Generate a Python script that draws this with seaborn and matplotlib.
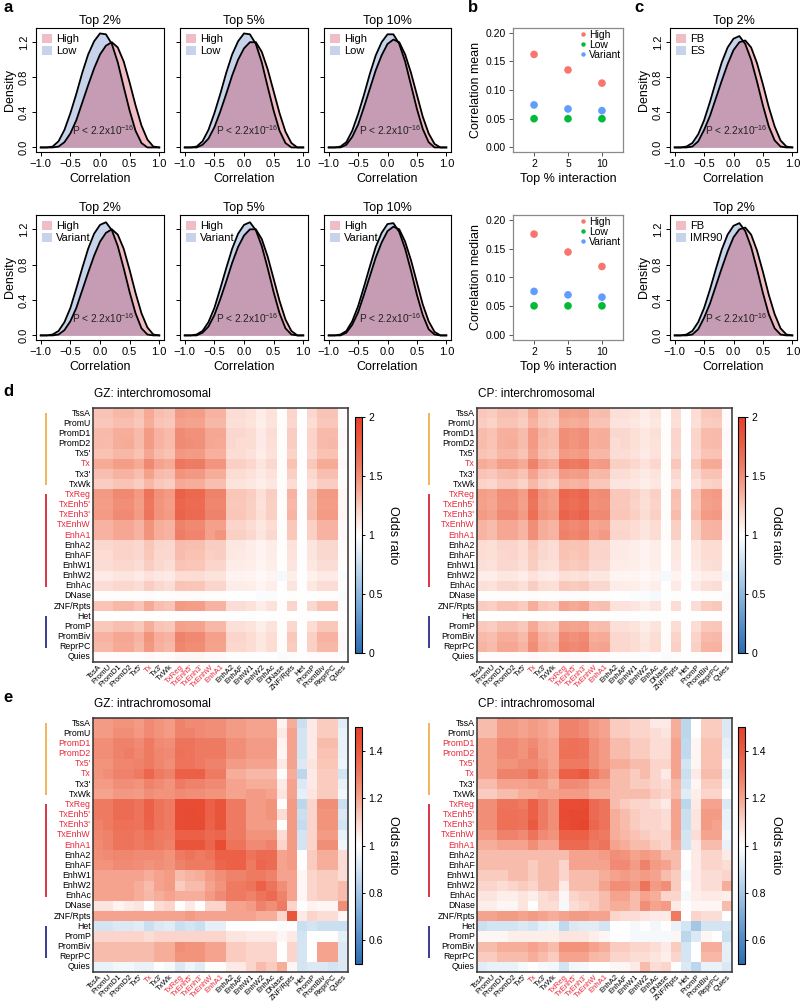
import numpy as np
import pandas as pd
import seaborn as sns
import matplotlib.pyplot as plt
import matplotlib.transforms as mtransforms
from matplotlib.colors import LinearSegmentedColormap
from matplotlib.patches import Patch
from matplotlib.lines import Line2D

plt.rcParams['font.family'] = ['Liberation Sans', 'DejaVu Sans']
plt.rcParams['mathtext.fontset'] = 'custom'
plt.rcParams['mathtext.rm'] = 'Liberation Sans'

# ---------------- data: density curves (read at correlation -1.0 .. 1.0, step 0.1)
corr_grid = np.linspace(-1.0, 1.0, 21)

low_top2 = [0.00, 0.00, 0.01, 0.07, 0.20, 0.39, 0.61, 0.85, 1.06, 1.21, 1.30,
            1.29, 1.18, 0.97, 0.69, 0.42, 0.19, 0.05, 0.00, 0.00, 0.00]
low_top5 = [0.00, 0.00, 0.01, 0.07, 0.20, 0.39, 0.61, 0.85, 1.06, 1.21, 1.30,
            1.29, 1.18, 0.97, 0.69, 0.42, 0.19, 0.05, 0.00, 0.00, 0.00]
low_top10 = [0.00, 0.00, 0.01, 0.06, 0.19, 0.38, 0.60, 0.84, 1.05, 1.20, 1.29,
             1.29, 1.18, 0.98, 0.71, 0.44, 0.21, 0.06, 0.00, 0.00, 0.00]
high_top2 = [0.00, 0.00, 0.00, 0.01, 0.06, 0.16, 0.31, 0.51, 0.71, 0.90, 1.06,
             1.16, 1.20, 1.14, 0.98, 0.74, 0.48, 0.25, 0.09, 0.01, 0.00]
high_top5 = [0.00, 0.00, 0.00, 0.03, 0.10, 0.23, 0.41, 0.61, 0.82, 1.00, 1.13,
             1.20, 1.20, 1.09, 0.89, 0.64, 0.39, 0.18, 0.05, 0.00, 0.00]
high_top10 = [0.00, 0.00, 0.00, 0.03, 0.12, 0.26, 0.46, 0.67, 0.88, 1.05, 1.18,
              1.23, 1.20, 1.06, 0.85, 0.60, 0.35, 0.16, 0.04, 0.00, 0.00]
variant_top2 = [0.00, 0.00, 0.01, 0.05, 0.15, 0.31, 0.53, 0.76, 0.98, 1.15, 1.25,
                1.28, 1.19, 1.01, 0.76, 0.49, 0.25, 0.08, 0.01, 0.00, 0.00]
variant_top5 = [0.00, 0.00, 0.01, 0.05, 0.15, 0.31, 0.53, 0.76, 0.98, 1.15, 1.25,
                1.28, 1.19, 1.01, 0.76, 0.49, 0.25, 0.08, 0.01, 0.00, 0.00]
variant_top10 = [0.00, 0.00, 0.01, 0.05, 0.16, 0.33, 0.55, 0.78, 1.00, 1.16, 1.26,
                 1.27, 1.17, 0.98, 0.73, 0.46, 0.23, 0.07, 0.01, 0.00, 0.00]
fb_top2 = [0.00, 0.00, 0.00, 0.01, 0.07, 0.20, 0.36, 0.56, 0.76, 0.95, 1.11,
           1.20, 1.22, 1.14, 0.96, 0.72, 0.46, 0.24, 0.08, 0.01, 0.00]
es_top2 = [0.00, 0.00, 0.01, 0.05, 0.15, 0.31, 0.52, 0.75, 0.97, 1.14, 1.24,
           1.27, 1.18, 1.00, 0.75, 0.48, 0.24, 0.08, 0.01, 0.00, 0.00]
imr90_top2 = [0.00, 0.00, 0.01, 0.05, 0.15, 0.31, 0.52, 0.75, 0.97, 1.14, 1.24,
              1.27, 1.18, 1.00, 0.75, 0.48, 0.24, 0.08, 0.01, 0.00, 0.00]

# ---------------- data: panel b
top_pct = ["2", "5", "10"]
mean_high = [0.162, 0.135, 0.112]
mean_low = [0.050, 0.050, 0.050]
mean_variant = [0.074, 0.067, 0.064]
median_high = [0.175, 0.144, 0.119]
median_low = [0.051, 0.051, 0.051]
median_variant = [0.076, 0.070, 0.066]

# ---------------- data: chromatin state odds ratios
states = ["TssA", "PromU", "PromD1", "PromD2", "Tx5'", "Tx", "Tx3'", "TxWk",
          "TxReg", "TxEnh5'", "TxEnh3'", "TxEnhW", "EnhA1", "EnhA2", "EnhAF",
          "EnhW1", "EnhW2", "EnhAc", "DNase", "ZNF/Rpts", "Het", "PromP",
          "PromBiv", "ReprPC", "Quies"]
red_cols = ["Tx", "TxReg", "TxEnh5'", "TxEnh3'", "TxEnhW", "EnhA1"]
red_rows_inter = ["Tx", "TxReg", "TxEnh5'", "TxEnh3'", "TxEnhW", "EnhA1"]
red_rows_intra = ["PromD1", "PromD2", "Tx5'", "Tx", "TxReg", "TxEnh5'",
                  "TxEnh3'", "TxEnhW", "EnhA1"]

gz_inter = [
    [1.27, 1.27, 1.32, 1.32, 1.27, 1.38, 1.29, 1.27, 1.45, 1.43, 1.43, 1.34, 1.34, 1.16, 1.16, 1.14, 1.09, 1.14, 1.01, 1.20, 1.00, 1.18, 1.27, 1.27, 1.02],
    [1.25, 1.25, 1.29, 1.29, 1.25, 1.36, 1.27, 1.25, 1.42, 1.40, 1.40, 1.32, 1.32, 1.15, 1.15, 1.13, 1.08, 1.13, 1.01, 1.19, 1.00, 1.17, 1.25, 1.25, 1.02],
    [1.31, 1.31, 1.36, 1.36, 1.31, 1.44, 1.34, 1.31, 1.52, 1.49, 1.49, 1.39, 1.39, 1.18, 1.18, 1.16, 1.10, 1.16, 1.01, 1.23, 1.00, 1.21, 1.31, 1.31, 1.03],
    [1.31, 1.30, 1.36, 1.37, 1.31, 1.44, 1.34, 1.30, 1.52, 1.50, 1.49, 1.39, 1.38, 1.18, 1.17, 1.16, 1.10, 1.15, 1.01, 1.23, 1.00, 1.21, 1.31, 1.32, 1.03],
    [1.28, 1.28, 1.32, 1.32, 1.28, 1.39, 1.30, 1.28, 1.46, 1.44, 1.44, 1.35, 1.35, 1.16, 1.16, 1.14, 1.09, 1.14, 1.01, 1.21, 1.00, 1.18, 1.28, 1.28, 1.02],
    [1.37, 1.37, 1.43, 1.43, 1.37, 1.53, 1.40, 1.37, 1.62, 1.59, 1.59, 1.47, 1.47, 1.22, 1.22, 1.19, 1.12, 1.19, 1.01, 1.28, 1.00, 1.25, 1.37, 1.37, 1.03],
    [1.29, 1.29, 1.34, 1.34, 1.29, 1.41, 1.31, 1.29, 1.48, 1.46, 1.46, 1.36, 1.36, 1.17, 1.17, 1.14, 1.10, 1.14, 1.01, 1.22, 1.00, 1.19, 1.29, 1.29, 1.02],
    [1.23, 1.23, 1.27, 1.27, 1.23, 1.32, 1.25, 1.23, 1.38, 1.36, 1.36, 1.29, 1.29, 1.13, 1.13, 1.11, 1.08, 1.11, 1.01, 1.17, 1.00, 1.15, 1.23, 1.23, 1.02],
    [1.45, 1.45, 1.53, 1.53, 1.45, 1.64, 1.49, 1.45, 1.75, 1.71, 1.71, 1.56, 1.56, 1.26, 1.26, 1.23, 1.15, 1.23, 1.02, 1.34, 1.00, 1.30, 1.45, 1.45, 1.04],
    [1.43, 1.43, 1.50, 1.50, 1.43, 1.61, 1.47, 1.43, 1.72, 1.68, 1.68, 1.54, 1.54, 1.25, 1.25, 1.22, 1.14, 1.22, 1.01, 1.32, 1.00, 1.29, 1.43, 1.43, 1.04],
    [1.44, 1.44, 1.52, 1.52, 1.44, 1.63, 1.48, 1.44, 1.74, 1.70, 1.70, 1.56, 1.56, 1.26, 1.26, 1.22, 1.15, 1.22, 1.01, 1.33, 1.00, 1.30, 1.44, 1.44, 1.04],
    [1.34, 1.34, 1.39, 1.39, 1.34, 1.48, 1.36, 1.34, 1.56, 1.53, 1.53, 1.42, 1.42, 1.20, 1.20, 1.17, 1.11, 1.17, 1.01, 1.25, 1.00, 1.22, 1.34, 1.34, 1.03],
    [1.34, 1.34, 1.39, 1.39, 1.34, 1.48, 1.36, 1.34, 1.58, 1.55, 1.55, 1.42, 1.47, 1.22, 1.22, 1.18, 1.12, 1.18, 1.01, 1.25, 1.00, 1.22, 1.34, 1.34, 1.03],
    [1.18, 1.18, 1.21, 1.21, 1.18, 1.26, 1.20, 1.18, 1.30, 1.29, 1.29, 1.23, 1.23, 1.11, 1.11, 1.09, 1.06, 1.09, 1.01, 1.14, 1.00, 1.12, 1.18, 1.18, 1.02],
    [1.17, 1.17, 1.21, 1.21, 1.18, 1.25, 1.19, 1.18, 1.30, 1.28, 1.28, 1.22, 1.23, 1.11, 1.10, 1.09, 1.06, 1.09, 1.00, 1.13, 1.00, 1.12, 1.18, 1.18, 1.01],
    [1.16, 1.16, 1.19, 1.19, 1.16, 1.23, 1.18, 1.16, 1.27, 1.26, 1.26, 1.20, 1.20, 1.09, 1.09, 1.08, 1.05, 1.08, 1.00, 1.12, 1.00, 1.11, 1.16, 1.16, 1.01],
    [1.10, 1.10, 1.12, 1.12, 1.10, 1.14, 1.11, 1.10, 1.17, 1.16, 1.16, 1.13, 1.13, 1.06, 1.06, 1.05, 1.03, 1.05, 0.96, 1.08, 1.00, 1.07, 1.10, 1.10, 0.97],
    [1.16, 1.16, 1.19, 1.19, 1.16, 1.23, 1.18, 1.16, 1.27, 1.26, 1.26, 1.20, 1.20, 1.09, 1.09, 1.08, 1.05, 1.08, 1.00, 1.12, 1.00, 1.11, 1.16, 1.16, 1.01],
    [1.01, 1.01, 1.01, 1.01, 1.01, 1.02, 1.01, 1.01, 1.02, 1.02, 1.02, 1.01, 1.01, 1.00, 1.00, 1.00, 0.97, 0.97, 1.00, 1.01, 1.00, 1.00, 1.01, 1.01, 0.97],
    [1.27, 1.27, 1.32, 1.32, 1.27, 1.38, 1.29, 1.27, 1.45, 1.43, 1.43, 1.34, 1.34, 1.16, 1.16, 1.14, 1.09, 1.14, 1.01, 1.20, 1.00, 1.18, 1.27, 1.27, 1.02],
    [1.00, 1.00, 1.00, 1.00, 1.00, 1.00, 1.00, 1.00, 1.00, 1.00, 1.00, 1.00, 1.00, 1.00, 1.00, 1.00, 1.00, 1.00, 1.00, 1.00, 1.00, 1.00, 1.00, 1.00, 1.00],
    [1.25, 1.25, 1.29, 1.29, 1.25, 1.36, 1.27, 1.25, 1.42, 1.40, 1.40, 1.32, 1.32, 1.15, 1.15, 1.13, 1.08, 1.13, 1.01, 1.19, 1.00, 1.17, 1.25, 1.25, 1.02],
    [1.34, 1.34, 1.39, 1.39, 1.34, 1.48, 1.36, 1.34, 1.56, 1.53, 1.53, 1.42, 1.42, 1.20, 1.20, 1.17, 1.11, 1.17, 1.01, 1.25, 1.00, 1.22, 1.34, 1.34, 1.03],
    [1.32, 1.32, 1.38, 1.38, 1.32, 1.46, 1.35, 1.32, 1.54, 1.51, 1.51, 1.41, 1.41, 1.19, 1.19, 1.16, 1.11, 1.16, 1.01, 1.24, 1.00, 1.22, 1.32, 1.32, 1.03],
    [1.02, 1.02, 1.02, 1.02, 1.02, 1.03, 1.02, 1.02, 1.04, 1.04, 1.04, 1.03, 1.03, 1.01, 1.01, 1.01, 0.99, 1.00, 0.97, 1.02, 1.00, 1.02, 1.02, 1.02, 1.00],
]

cp_inter = [
    [1.25, 1.23, 1.29, 1.29, 1.25, 1.38, 1.27, 1.25, 1.42, 1.40, 1.42, 1.29, 1.30, 1.15, 1.15, 1.13, 1.09, 1.13, 1.01, 1.17, 1.00, 1.17, 1.25, 1.26, 1.02],
    [1.23, 1.21, 1.27, 1.27, 1.23, 1.34, 1.25, 1.23, 1.38, 1.36, 1.38, 1.27, 1.27, 1.13, 1.13, 1.11, 1.08, 1.11, 1.01, 1.15, 1.00, 1.15, 1.23, 1.24, 1.02],
    [1.30, 1.28, 1.35, 1.35, 1.30, 1.45, 1.33, 1.30, 1.50, 1.48, 1.50, 1.35, 1.36, 1.18, 1.18, 1.15, 1.11, 1.15, 1.01, 1.20, 1.00, 1.20, 1.30, 1.31, 1.03],
    [1.30, 1.27, 1.35, 1.36, 1.30, 1.45, 1.32, 1.30, 1.50, 1.47, 1.50, 1.35, 1.36, 1.17, 1.18, 1.15, 1.11, 1.14, 1.01, 1.20, 1.00, 1.20, 1.30, 1.31, 1.02],
    [1.27, 1.25, 1.32, 1.32, 1.27, 1.41, 1.29, 1.27, 1.45, 1.43, 1.45, 1.32, 1.32, 1.16, 1.16, 1.14, 1.10, 1.14, 1.01, 1.18, 1.00, 1.18, 1.27, 1.28, 1.02],
    [1.37, 1.34, 1.43, 1.43, 1.37, 1.56, 1.40, 1.37, 1.62, 1.59, 1.62, 1.43, 1.45, 1.22, 1.22, 1.19, 1.14, 1.19, 1.01, 1.25, 1.00, 1.25, 1.37, 1.38, 1.03],
    [1.27, 1.25, 1.31, 1.32, 1.27, 1.40, 1.29, 1.27, 1.45, 1.43, 1.44, 1.31, 1.32, 1.16, 1.16, 1.13, 1.10, 1.13, 1.01, 1.18, 1.00, 1.18, 1.27, 1.28, 1.02],
    [1.21, 1.19, 1.25, 1.25, 1.21, 1.32, 1.23, 1.21, 1.35, 1.33, 1.35, 1.25, 1.25, 1.12, 1.12, 1.11, 1.08, 1.11, 1.01, 1.14, 1.00, 1.14, 1.21, 1.22, 1.02],
    [1.43, 1.40, 1.50, 1.50, 1.43, 1.65, 1.47, 1.43, 1.72, 1.68, 1.72, 1.50, 1.52, 1.25, 1.25, 1.22, 1.16, 1.22, 1.01, 1.29, 1.00, 1.29, 1.43, 1.45, 1.04],
    [1.42, 1.39, 1.49, 1.49, 1.42, 1.63, 1.46, 1.42, 1.70, 1.67, 1.70, 1.49, 1.50, 1.25, 1.25, 1.21, 1.15, 1.21, 1.01, 1.28, 1.00, 1.28, 1.42, 1.43, 1.04],
    [1.44, 1.41, 1.52, 1.52, 1.44, 1.67, 1.48, 1.44, 1.74, 1.70, 1.74, 1.52, 1.53, 1.26, 1.26, 1.22, 1.16, 1.22, 1.01, 1.30, 1.00, 1.30, 1.44, 1.46, 1.04],
    [1.33, 1.30, 1.39, 1.39, 1.33, 1.50, 1.36, 1.33, 1.55, 1.52, 1.55, 1.39, 1.40, 1.19, 1.19, 1.17, 1.12, 1.17, 1.01, 1.22, 1.00, 1.22, 1.33, 1.34, 1.03],
    [1.33, 1.30, 1.39, 1.39, 1.33, 1.50, 1.36, 1.33, 1.57, 1.54, 1.57, 1.40, 1.45, 1.20, 1.20, 1.17, 1.12, 1.17, 1.01, 1.22, 1.00, 1.22, 1.33, 1.34, 1.03],
    [1.17, 1.15, 1.20, 1.20, 1.17, 1.25, 1.18, 1.17, 1.28, 1.27, 1.28, 1.20, 1.20, 1.10, 1.10, 1.08, 1.06, 1.08, 1.01, 1.11, 1.00, 1.11, 1.17, 1.17, 1.01],
    [1.17, 1.15, 1.19, 1.20, 1.17, 1.24, 1.18, 1.16, 1.28, 1.26, 1.28, 1.20, 1.21, 1.10, 1.10, 1.08, 1.06, 1.08, 1.00, 1.11, 1.00, 1.11, 1.17, 1.17, 1.01],
    [1.15, 1.14, 1.18, 1.18, 1.15, 1.23, 1.16, 1.15, 1.25, 1.24, 1.25, 1.18, 1.18, 1.09, 1.09, 1.08, 1.06, 1.08, 1.00, 1.10, 1.00, 1.10, 1.15, 1.16, 1.01],
    [1.09, 1.08, 1.11, 1.11, 1.09, 1.14, 1.10, 1.09, 1.15, 1.14, 1.15, 1.11, 1.11, 1.05, 1.05, 1.05, 1.03, 1.05, 0.96, 1.06, 1.00, 1.06, 1.09, 1.09, 0.96],
    [1.15, 1.14, 1.18, 1.18, 1.15, 1.23, 1.16, 1.15, 1.25, 1.24, 1.25, 1.18, 1.18, 1.09, 1.09, 1.08, 1.06, 1.08, 1.00, 1.10, 1.00, 1.10, 1.15, 1.16, 1.01],
    [1.01, 1.01, 1.01, 1.01, 1.01, 1.02, 1.01, 1.01, 1.02, 1.02, 1.02, 1.01, 1.01, 1.00, 1.00, 0.98, 0.97, 0.96, 1.00, 1.01, 1.00, 1.00, 1.01, 1.01, 0.97],
    [1.24, 1.22, 1.28, 1.28, 1.24, 1.36, 1.26, 1.24, 1.40, 1.38, 1.40, 1.28, 1.29, 1.14, 1.14, 1.12, 1.09, 1.12, 1.01, 1.16, 1.00, 1.16, 1.24, 1.25, 1.02],
    [1.00, 1.00, 1.00, 1.00, 1.00, 1.00, 1.00, 1.00, 1.00, 1.00, 1.00, 1.00, 1.00, 1.00, 1.00, 1.00, 1.00, 1.00, 1.00, 1.00, 1.00, 1.00, 1.00, 1.00, 1.00],
    [1.25, 1.23, 1.29, 1.29, 1.25, 1.38, 1.27, 1.25, 1.42, 1.40, 1.42, 1.29, 1.30, 1.15, 1.15, 1.13, 1.09, 1.13, 1.01, 1.17, 1.00, 1.17, 1.25, 1.26, 1.02],
    [1.31, 1.29, 1.36, 1.36, 1.31, 1.47, 1.34, 1.31, 1.52, 1.49, 1.52, 1.36, 1.37, 1.18, 1.18, 1.16, 1.11, 1.16, 1.01, 1.21, 1.00, 1.21, 1.31, 1.32, 1.03],
    [1.33, 1.30, 1.39, 1.39, 1.33, 1.50, 1.36, 1.33, 1.55, 1.52, 1.55, 1.39, 1.40, 1.19, 1.19, 1.17, 1.12, 1.17, 1.01, 1.22, 1.00, 1.22, 1.33, 1.34, 1.03],
    [1.02, 1.02, 1.02, 1.02, 1.02, 1.03, 1.02, 1.02, 1.03, 1.03, 1.03, 1.02, 1.02, 1.01, 1.01, 1.01, 0.98, 1.00, 0.97, 1.02, 1.00, 1.01, 1.02, 1.02, 1.00],
]

gz_intra = [
    [1.22, 1.22, 1.24, 1.24, 1.22, 1.26, 1.24, 1.22, 1.28, 1.26, 1.26, 1.25, 1.25, 1.22, 1.22, 1.20, 1.20, 1.20, 1.03, 1.18, 0.88, 1.05, 1.12, 1.12, 0.93],
    [1.22, 1.22, 1.25, 1.25, 1.23, 1.26, 1.24, 1.22, 1.28, 1.28, 1.26, 1.25, 1.25, 1.22, 1.22, 1.20, 1.20, 1.20, 1.05, 1.20, 0.90, 1.05, 1.12, 1.12, 0.95],
    [1.25, 1.25, 1.28, 1.28, 1.26, 1.30, 1.26, 1.25, 1.32, 1.32, 1.30, 1.30, 1.30, 1.25, 1.25, 1.22, 1.22, 1.22, 1.03, 1.20, 0.90, 1.05, 1.15, 1.15, 0.95],
    [1.25, 1.25, 1.28, 1.29, 1.27, 1.30, 1.27, 1.26, 1.33, 1.32, 1.30, 1.30, 1.30, 1.25, 1.25, 1.22, 1.22, 1.22, 1.02, 1.20, 0.90, 1.05, 1.14, 1.14, 0.95],
    [1.24, 1.24, 1.27, 1.27, 1.28, 1.30, 1.27, 1.25, 1.32, 1.32, 1.30, 1.28, 1.28, 1.22, 1.22, 1.20, 1.20, 1.20, 1.05, 1.20, 0.92, 1.06, 1.13, 1.13, 0.96],
    [1.24, 1.25, 1.28, 1.28, 1.30, 1.36, 1.30, 1.28, 1.38, 1.38, 1.38, 1.30, 1.30, 1.18, 1.18, 1.16, 1.16, 1.16, 0.99, 1.18, 0.85, 1.05, 1.12, 1.12, 0.90],
    [1.22, 1.22, 1.25, 1.25, 1.24, 1.28, 1.26, 1.24, 1.30, 1.28, 1.28, 1.26, 1.26, 1.20, 1.20, 1.18, 1.18, 1.18, 1.05, 1.20, 0.92, 1.05, 1.12, 1.12, 0.95],
    [1.20, 1.20, 1.23, 1.23, 1.22, 1.25, 1.24, 1.24, 1.26, 1.25, 1.25, 1.24, 1.24, 1.20, 1.20, 1.22, 1.22, 1.20, 1.06, 1.20, 0.94, 1.06, 1.12, 1.12, 0.97],
    [1.30, 1.30, 1.34, 1.34, 1.32, 1.38, 1.32, 1.30, 1.45, 1.45, 1.45, 1.38, 1.42, 1.30, 1.30, 1.22, 1.22, 1.24, 1.00, 1.22, 0.85, 1.10, 1.25, 1.25, 0.88],
    [1.30, 1.30, 1.34, 1.34, 1.32, 1.38, 1.32, 1.30, 1.45, 1.46, 1.45, 1.38, 1.42, 1.30, 1.30, 1.22, 1.22, 1.24, 1.08, 1.22, 0.88, 1.10, 1.24, 1.24, 0.92],
    [1.28, 1.30, 1.33, 1.33, 1.32, 1.37, 1.32, 1.30, 1.45, 1.46, 1.46, 1.37, 1.42, 1.30, 1.30, 1.22, 1.22, 1.22, 1.00, 1.22, 0.87, 1.10, 1.24, 1.24, 0.90],
    [1.27, 1.28, 1.32, 1.32, 1.30, 1.33, 1.30, 1.29, 1.38, 1.38, 1.38, 1.35, 1.36, 1.30, 1.30, 1.24, 1.24, 1.24, 1.08, 1.22, 0.90, 1.10, 1.22, 1.22, 0.95],
    [1.26, 1.28, 1.32, 1.32, 1.30, 1.32, 1.30, 1.28, 1.42, 1.42, 1.42, 1.36, 1.45, 1.32, 1.32, 1.26, 1.26, 1.28, 1.10, 1.22, 0.90, 1.10, 1.25, 1.25, 0.97],
    [1.25, 1.26, 1.27, 1.27, 1.26, 1.26, 1.26, 1.24, 1.30, 1.32, 1.30, 1.32, 1.38, 1.38, 1.38, 1.32, 1.35, 1.34, 1.20, 1.22, 1.00, 1.12, 1.18, 1.18, 1.08],
    [1.24, 1.24, 1.26, 1.26, 1.25, 1.24, 1.25, 1.24, 1.28, 1.30, 1.30, 1.30, 1.36, 1.38, 1.38, 1.30, 1.36, 1.34, 1.20, 1.22, 1.00, 1.12, 1.18, 1.18, 1.08],
    [1.20, 1.20, 1.20, 1.20, 1.20, 1.18, 1.20, 1.22, 1.15, 1.17, 1.18, 1.22, 1.25, 1.28, 1.28, 1.30, 1.30, 1.28, 1.20, 1.20, 1.02, 1.10, 1.12, 1.12, 1.08],
    [1.20, 1.20, 1.20, 1.20, 1.18, 1.15, 1.20, 1.22, 1.12, 1.15, 1.15, 1.20, 1.24, 1.30, 1.30, 1.32, 1.38, 1.32, 1.25, 1.20, 1.02, 1.10, 1.12, 1.12, 1.15],
    [1.20, 1.20, 1.20, 1.20, 1.18, 1.16, 1.18, 1.20, 1.18, 1.18, 1.18, 1.22, 1.26, 1.30, 1.30, 1.28, 1.32, 1.35, 1.28, 1.20, 1.02, 1.10, 1.12, 1.12, 1.15],
    [1.06, 1.06, 1.03, 1.05, 1.06, 1.00, 1.08, 1.10, 1.00, 1.05, 1.00, 1.10, 1.10, 1.20, 1.20, 1.22, 1.28, 1.25, 1.30, 1.10, 1.00, 1.03, 1.02, 1.02, 1.25],
    [1.20, 1.20, 1.20, 1.20, 1.20, 1.20, 1.20, 1.20, 1.20, 1.22, 1.20, 1.20, 1.20, 1.20, 1.20, 1.20, 1.18, 1.18, 1.10, 1.42, 1.05, 1.10, 1.08, 1.08, 1.02],
    [0.90, 0.90, 0.92, 0.92, 0.93, 0.88, 0.92, 0.93, 0.88, 0.90, 0.88, 0.94, 0.94, 1.00, 1.00, 1.00, 1.00, 1.00, 0.99, 1.00, 0.88, 0.90, 0.88, 0.88, 0.88],
    [1.10, 1.10, 1.10, 1.10, 1.10, 1.08, 1.10, 1.10, 1.10, 1.10, 1.10, 1.10, 1.10, 1.06, 1.06, 1.05, 1.05, 1.05, 1.02, 1.05, 0.90, 1.00, 1.00, 1.00, 0.94],
    [1.15, 1.15, 1.15, 1.15, 1.15, 1.15, 1.18, 1.18, 1.25, 1.24, 1.24, 1.20, 1.20, 1.12, 1.12, 1.10, 1.10, 1.10, 1.00, 1.10, 0.90, 1.00, 1.20, 1.20, 0.92],
    [1.15, 1.15, 1.15, 1.15, 1.15, 1.15, 1.18, 1.18, 1.24, 1.24, 1.24, 1.20, 1.20, 1.12, 1.12, 1.10, 1.10, 1.10, 1.00, 1.10, 0.90, 1.00, 1.20, 1.20, 0.92],
    [0.95, 0.95, 0.97, 0.97, 0.95, 0.95, 1.00, 0.98, 0.92, 0.96, 0.93, 1.00, 1.00, 1.05, 1.05, 1.10, 1.15, 1.12, 1.18, 1.02, 0.90, 0.92, 0.92, 0.90, 0.92],
]

cp_intra = [
    [1.15, 1.15, 1.22, 1.22, 1.20, 1.22, 1.20, 1.18, 1.28, 1.28, 1.26, 1.22, 1.20, 1.12, 1.12, 1.10, 1.10, 1.05, 1.05, 1.18, 0.85, 1.00, 1.12, 1.12, 0.92],
    [1.15, 1.15, 1.22, 1.22, 1.20, 1.22, 1.20, 1.18, 1.28, 1.28, 1.26, 1.22, 1.20, 1.12, 1.12, 1.10, 1.10, 1.08, 1.06, 1.18, 0.85, 1.00, 1.12, 1.12, 0.92],
    [1.20, 1.20, 1.26, 1.26, 1.24, 1.26, 1.22, 1.20, 1.32, 1.33, 1.32, 1.25, 1.22, 1.15, 1.15, 1.12, 1.12, 1.08, 1.08, 1.20, 0.86, 1.02, 1.14, 1.14, 0.94],
    [1.20, 1.20, 1.26, 1.26, 1.24, 1.28, 1.22, 1.20, 1.33, 1.33, 1.32, 1.25, 1.22, 1.15, 1.15, 1.12, 1.12, 1.08, 1.08, 1.20, 0.86, 1.02, 1.14, 1.14, 0.95],
    [1.20, 1.20, 1.24, 1.24, 1.26, 1.26, 1.24, 1.20, 1.30, 1.30, 1.30, 1.25, 1.22, 1.18, 1.18, 1.15, 1.15, 1.10, 1.10, 1.20, 0.90, 1.02, 1.14, 1.14, 0.98],
    [1.20, 1.20, 1.28, 1.28, 1.28, 1.32, 1.26, 1.22, 1.38, 1.38, 1.40, 1.30, 1.25, 1.15, 1.15, 1.12, 1.15, 1.10, 1.05, 1.20, 0.88, 1.05, 1.15, 1.15, 0.95],
    [1.15, 1.15, 1.20, 1.20, 1.20, 1.22, 1.22, 1.18, 1.26, 1.26, 1.25, 1.20, 1.20, 1.15, 1.15, 1.12, 1.12, 1.10, 1.08, 1.16, 0.90, 1.02, 1.12, 1.12, 0.97],
    [1.12, 1.12, 1.15, 1.15, 1.18, 1.18, 1.20, 1.20, 1.22, 1.22, 1.22, 1.18, 1.18, 1.15, 1.15, 1.15, 1.15, 1.12, 1.10, 1.15, 0.93, 1.04, 1.10, 1.10, 1.00],
    [1.25, 1.25, 1.32, 1.32, 1.30, 1.38, 1.30, 1.25, 1.45, 1.45, 1.46, 1.35, 1.32, 1.15, 1.12, 1.10, 1.10, 1.08, 1.05, 1.20, 0.85, 1.05, 1.20, 1.20, 0.92],
    [1.25, 1.25, 1.33, 1.33, 1.32, 1.38, 1.30, 1.25, 1.46, 1.47, 1.47, 1.35, 1.32, 1.18, 1.15, 1.12, 1.10, 1.10, 1.08, 1.20, 0.88, 1.06, 1.22, 1.22, 0.95],
    [1.25, 1.25, 1.33, 1.33, 1.32, 1.40, 1.30, 1.25, 1.45, 1.47, 1.48, 1.36, 1.32, 1.18, 1.15, 1.12, 1.10, 1.10, 1.08, 1.20, 0.88, 1.06, 1.22, 1.20, 0.95],
    [1.22, 1.22, 1.28, 1.28, 1.26, 1.32, 1.26, 1.24, 1.38, 1.38, 1.38, 1.32, 1.30, 1.18, 1.16, 1.14, 1.12, 1.10, 1.10, 1.20, 0.90, 1.08, 1.20, 1.20, 0.97],
    [1.18, 1.18, 1.20, 1.20, 1.20, 1.25, 1.20, 1.20, 1.35, 1.35, 1.35, 1.30, 1.32, 1.20, 1.18, 1.15, 1.15, 1.12, 1.10, 1.18, 0.90, 1.05, 1.15, 1.15, 0.95],
    [1.15, 1.15, 1.15, 1.15, 1.15, 1.15, 1.15, 1.15, 1.15, 1.20, 1.20, 1.20, 1.22, 1.25, 1.24, 1.20, 1.22, 1.20, 1.15, 1.15, 1.00, 1.05, 1.10, 1.10, 1.05],
    [1.15, 1.15, 1.15, 1.15, 1.15, 1.12, 1.15, 1.15, 1.10, 1.20, 1.20, 1.20, 1.20, 1.26, 1.26, 1.22, 1.28, 1.22, 1.20, 1.15, 1.00, 1.05, 1.10, 1.10, 1.08],
    [1.12, 1.12, 1.12, 1.15, 1.15, 1.12, 1.15, 1.15, 1.10, 1.15, 1.15, 1.15, 1.18, 1.20, 1.22, 1.20, 1.22, 1.20, 1.15, 1.12, 0.98, 1.05, 1.08, 1.08, 1.10],
    [1.10, 1.10, 1.08, 1.10, 1.12, 1.10, 1.15, 1.15, 1.05, 1.15, 1.15, 1.15, 1.20, 1.25, 1.25, 1.22, 1.32, 1.22, 1.25, 1.12, 1.00, 1.05, 1.08, 1.08, 1.18],
    [1.06, 1.06, 1.04, 1.04, 1.06, 1.04, 1.08, 1.10, 1.02, 1.10, 1.12, 1.12, 1.15, 1.20, 1.20, 1.15, 1.20, 1.18, 1.10, 1.10, 0.98, 1.04, 1.05, 1.05, 1.04],
    [1.04, 1.04, 1.02, 1.02, 1.06, 1.00, 1.08, 1.08, 0.98, 1.08, 1.10, 1.12, 1.15, 1.18, 1.18, 1.15, 1.25, 1.20, 1.22, 1.05, 1.00, 1.02, 1.02, 1.02, 1.15],
    [1.20, 1.20, 1.22, 1.22, 1.20, 1.22, 1.20, 1.18, 1.20, 1.22, 1.22, 1.20, 1.20, 1.10, 1.08, 1.08, 1.06, 1.05, 1.05, 1.30, 1.00, 1.10, 1.08, 1.08, 1.00],
    [0.88, 0.90, 0.90, 0.90, 0.92, 0.90, 0.94, 0.95, 0.86, 0.92, 0.93, 0.93, 0.90, 1.00, 1.00, 0.98, 1.00, 0.97, 1.00, 0.95, 0.90, 0.80, 0.90, 0.90, 0.90],
    [1.02, 1.02, 1.02, 1.04, 1.04, 1.04, 1.04, 1.04, 1.06, 1.06, 1.06, 1.04, 1.02, 1.00, 1.00, 0.98, 0.98, 0.98, 0.98, 1.02, 0.85, 0.92, 1.02, 1.00, 0.88],
    [1.15, 1.15, 1.18, 1.18, 1.18, 1.20, 1.18, 1.15, 1.24, 1.24, 1.24, 1.20, 1.18, 1.12, 1.12, 1.10, 1.10, 1.08, 1.05, 1.12, 0.90, 1.00, 1.18, 1.18, 0.94],
    [1.12, 1.12, 1.15, 1.15, 1.15, 1.18, 1.15, 1.12, 1.20, 1.20, 1.20, 1.16, 1.15, 1.10, 1.10, 1.08, 1.08, 1.06, 1.04, 1.10, 0.90, 1.00, 1.16, 1.16, 0.94],
    [0.93, 0.95, 0.95, 0.95, 0.98, 1.00, 0.98, 0.97, 0.90, 0.97, 0.98, 1.00, 1.00, 1.02, 1.02, 1.05, 1.15, 1.08, 1.10, 1.00, 0.92, 0.85, 0.95, 0.95, 0.92],
]

# ---------------- styling
W, H = 800, 1002
RED_FILL, RED_ALPHA = "#C40018", 0.26
BLUE_FILL, BLUE_ALPHA = "#2353B3", 0.25
LABEL_RED = "#E8283A"
GG_RED, GG_GREEN, GG_BLUE = "#F8766D", "#00BA38", "#619CFF"
odds_cmap = LinearSegmentedColormap.from_list("odds", [
    (0.0, "#2B6CB3"), (0.1, "#4F8AC5"), (0.2, "#78A9D6"), (0.3, "#A6C8E6"),
    (0.4, "#D3E4F3"), (0.5, "#FFFFFF"), (0.6, "#FBD5CB"), (0.7, "#F5A48F"),
    (0.8, "#EE7A62"), (0.9, "#EA5A40"), (1.0, "#E6412A")])

fig = plt.figure(figsize=(8, 10.02), dpi=100)


def px_axes(x0, y0, x1, y1):
    return fig.add_axes([x0 / W, 1 - y1 / H, (x1 - x0) / W, (y1 - y0) / H])


def density_panel(ax, red_vals, blue_vals, red_name, blue_name, title, show_y):
    df = pd.DataFrame({
        "Correlation": np.concatenate([corr_grid, corr_grid]),
        "Density": np.concatenate([blue_vals, red_vals]),
        "Group": [blue_name] * len(corr_grid) + [red_name] * len(corr_grid),
    })
    ax.fill_between(corr_grid, blue_vals, color=BLUE_FILL, alpha=BLUE_ALPHA, lw=0)
    ax.fill_between(corr_grid, red_vals, color=RED_FILL, alpha=RED_ALPHA, lw=0)
    sns.lineplot(data=df, x="Correlation", y="Density", units="Group",
                 estimator=None, color="black", lw=1.3, ax=ax)
    ax.set_xlim(-1.08, 1.08)
    ax.set_ylim(-0.052, 1.362)
    ax.set_xticks([-1.0, -0.5, 0.0, 0.5, 1.0])
    ax.set_xticklabels(["\u22121.0", "\u22120.5", "0.0", "0.5", "1.0"])
    ax.set_yticks([0.0, 0.4, 0.8, 1.2])
    if show_y:
        ax.set_yticklabels(["0.0", "0.4", "0.8", "1.2"], rotation=90, va="center")
        ax.set_ylabel("Density", fontsize=9, labelpad=2)
    else:
        ax.set_yticklabels([])
        ax.set_ylabel("")
    ax.set_xlabel("Correlation", fontsize=9, labelpad=3)
    ax.set_title(title, fontsize=9, pad=3)
    for s in ax.spines.values():
        s.set_color("black")
        s.set_linewidth(0.8)
    ax.tick_params(direction="out", length=3, width=0.7, labelsize=8, pad=2)
    handles = [Patch(facecolor=RED_FILL, alpha=RED_ALPHA, edgecolor="none", label=red_name),
               Patch(facecolor=BLUE_FILL, alpha=BLUE_ALPHA, edgecolor="none", label=blue_name)]
    ax.legend(handles=handles, loc="upper left", frameon=False, fontsize=8,
              handlelength=0.9, handleheight=0.9, handletextpad=0.4,
              labelspacing=0.15, borderaxespad=0.3, borderpad=0.2)
    ax.text(0.05, 0.2, r"P < 2.2x10$^{-16}$", ha="center", va="center",
            fontsize=7.3, color="#222222")


# ---------------- panel a
a_cols = [(36, 164), (180, 308), (324, 451)]
row1, row2 = (28, 152), (215, 340)
a_top = [(high_top2, low_top2, "Top 2%"), (high_top5, low_top5, "Top 5%"),
         (high_top10, low_top10, "Top 10%")]
a_bot = [(high_top2, variant_top2, "Top 2%"), (high_top5, variant_top5, "Top 5%"),
         (high_top10, variant_top10, "Top 10%")]
for i, (xc, (hv, lv, t)) in enumerate(zip(a_cols, a_top)):
    ax = px_axes(xc[0], row1[0], xc[1], row1[1])
    density_panel(ax, hv, lv, "High", "Low", t, i == 0)
for i, (xc, (hv, vv, t)) in enumerate(zip(a_cols, a_bot)):
    ax = px_axes(xc[0], row2[0], xc[1], row2[1])
    density_panel(ax, hv, vv, "High", "Variant", t, i == 0)

# ---------------- panel c
ax = px_axes(670, row1[0], 797, row1[1])
density_panel(ax, fb_top2, es_top2, "FB", "ES", "Top 2%", True)
ax = px_axes(670, row2[0], 797, row2[1])
density_panel(ax, fb_top2, imr90_top2, "FB", "IMR90", "Top 2%", True)


# ---------------- panel b
def summary_panel(ax, high, low, variant, ylabel):
    df = pd.DataFrame({
        "Top": top_pct * 3,
        "Value": high + low + variant,
        "Group": ["High"] * 3 + ["Low"] * 3 + ["Variant"] * 3,
    })
    sns.stripplot(data=df, x="Top", y="Value", hue="Group", order=top_pct,
                  palette={"High": GG_RED, "Low": GG_GREEN, "Variant": GG_BLUE},
                  jitter=False, size=5.5, linewidth=0, legend=False, ax=ax)
    ax.set_xlim(-0.62, 2.62)
    ax.set_ylim(-0.008, 0.208)
    ax.set_yticks([0.0, 0.05, 0.10, 0.15, 0.20])
    ax.set_yticklabels(["0.00", "0.05", "0.10", "0.15", "0.20"])
    ax.set_xlabel("Top % interaction", fontsize=9, labelpad=3)
    ax.set_ylabel(ylabel, fontsize=9, labelpad=3)
    for s in ax.spines.values():
        s.set_color("#8a8a8a")
        s.set_linewidth(0.9)
    ax.tick_params(direction="out", length=3, width=0.7, color="#555555",
                   labelsize=7.5, pad=2)
    handles = [Line2D([0], [0], marker="o", color="none", markerfacecolor=c,
                      markeredgecolor="none", markersize=3.2, label=n)
               for n, c in [("High", GG_RED), ("Low", GG_GREEN), ("Variant", GG_BLUE)]]
    ax.legend(handles=handles, loc="upper right", frameon=False, fontsize=7.5,
              handlelength=0.8, handletextpad=0.2, labelspacing=0.0,
              borderaxespad=0.1, borderpad=0.1)


ax = px_axes(513, row1[0], 623, row1[1])
summary_panel(ax, mean_high, mean_low, mean_variant, "Correlation mean")
ax = px_axes(513, row2[0], 623, row2[1])
summary_panel(ax, median_high, median_low, median_variant, "Correlation median")


# ---------------- panels d / e heatmaps
def heatmap_panel(box, cbar_box, mat, title, vmin, vmax, ticks, tick_labels, red_rows, bar_x):
    ax = px_axes(*box)
    cax = px_axes(*cbar_box)
    df = pd.DataFrame(mat, index=states, columns=states)
    sns.heatmap(df, ax=ax, cbar_ax=cax, cmap=odds_cmap, vmin=vmin, vmax=vmax,
                xticklabels=True, yticklabels=True, linewidths=0)
    ax.tick_params(axis="y", length=0, labelsize=6.3, pad=1.5)
    ax.tick_params(axis="x", length=0, labelsize=5.6, pad=1)
    ax.set_xticklabels(states, rotation=45, ha="right", rotation_mode="anchor")
    ax.set_yticklabels(states, rotation=0)
    ax.set_xlabel("")
    ax.set_ylabel("")
    for t in ax.get_xticklabels():
        t.set_color(LABEL_RED if t.get_text() in red_cols else "black")
    for t in ax.get_yticklabels():
        t.set_color(LABEL_RED if t.get_text() in red_rows else "black")
    for s in ax.spines.values():
        s.set_visible(True)
        s.set_color("#333333")
        s.set_linewidth(1.1)
    cb = ax.collections[0].colorbar
    cb.outline.set_linewidth(0.8)
    cb.outline.set_edgecolor("black")
    cb.set_ticks(ticks)
    cb.set_ticklabels(tick_labels)
    cax.tick_params(labelsize=7.5, length=2.5, width=0.7, pad=2)
    # group bars at the left
    trans = mtransforms.blended_transform_factory(ax.transAxes, ax.transData)
    for y0, y1, c in [(0.45, 7.6, "#F2B65A"), (8.45, 17.6, "#D93545"), (20.45, 23.6, "#3A3C95")]:
        ax.plot([bar_x, bar_x], [y0, y1], color=c, lw=1.4, transform=trans,
                clip_on=False, solid_capstyle="butt")
    fig.text((box[0] + 1) / W, 1 - (box[1] - 14) / H, title, fontsize=8.5,
             ha="left", va="center")
    fig.text((cbar_box[2] + 31) / W, 1 - (box[1] + box[3]) / 2 / H, "Odds ratio",
             rotation=270, fontsize=9, ha="center", va="center")


d_ticks, d_labels = [0, 0.5, 1, 1.5, 2], ["0", "0.5", "1", "1.5", "2"]
e_ticks, e_labels = [0.6, 0.8, 1.0, 1.2, 1.4], ["0.6", "0.8", "1", "1.2", "1.4"]

heatmap_panel((93, 408, 348, 662), (355, 417, 362, 653), gz_inter,
              "GZ: interchromosomal", 0, 2, d_ticks, d_labels, red_rows_inter, -0.184)
heatmap_panel((477, 408, 732, 662), (738, 417, 745, 653), cp_inter,
              "CP: interchromosomal", 0, 2, d_ticks, d_labels, red_rows_inter, -0.188)
heatmap_panel((93, 718, 348, 972), (355, 727, 362, 964), gz_intra,
              "GZ: intrachromosomal", 0.5, 1.5, e_ticks, e_labels, red_rows_intra, -0.184)
heatmap_panel((477, 718, 732, 972), (738, 727, 745, 964), cp_intra,
              "CP: intrachromosomal", 0.5, 1.5, e_ticks, e_labels, red_rows_intra, -0.188)

# ---------------- panel letters
for letter, x, y in [("a", 3, 8), ("b", 468, 8), ("c", 634, 8), ("d", 3, 392), ("e", 3, 697)]:
    fig.text(x / W, 1 - y / H, letter, fontsize=12, fontweight="bold", ha="left", va="center")

fig.savefig("out.png", dpi=100)
